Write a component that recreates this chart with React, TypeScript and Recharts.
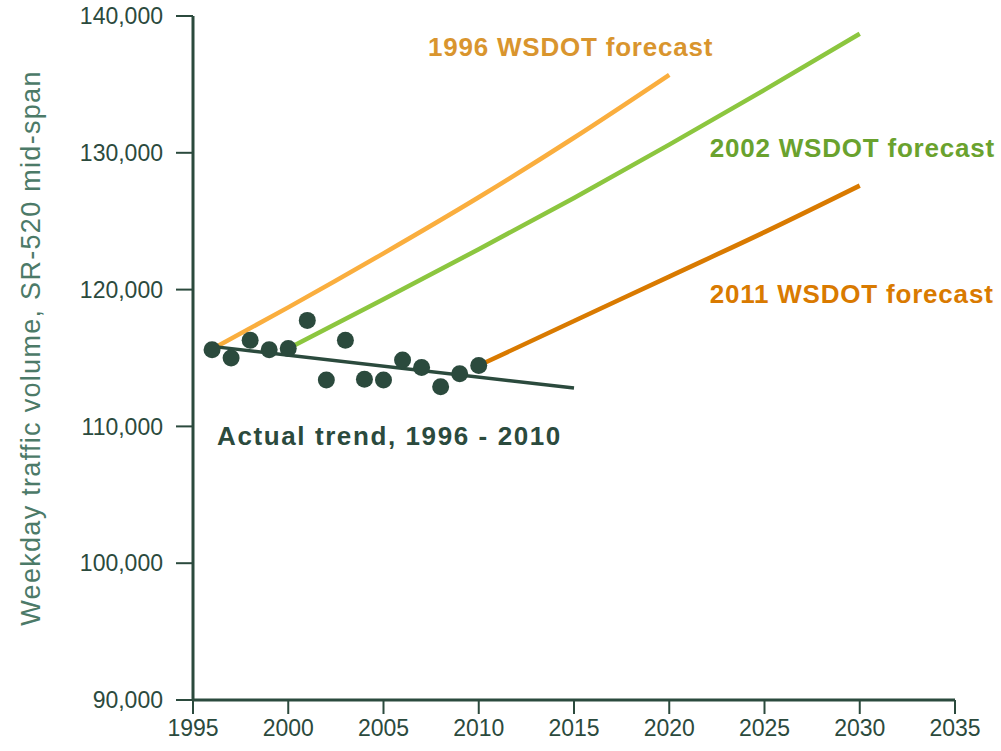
import React from 'react';
import { ComposedChart, Line, Scatter, XAxis, YAxis } from 'recharts';

const observedYears = [1996, 1997, 1998, 1999, 2000, 2001, 2002, 2003, 2004, 2005, 2006, 2007, 2008, 2009, 2010];
const observedValues = [115600, 115000, 116300, 115600, 115700, 117750, 113400, 116300, 113450, 113400, 114850, 114300, 112900, 113850, 114450];

const trendYears = [1996, 2015];
const trendValues = [115850, 112800];

const forecast1996Years = [1996, 2000, 2005, 2010, 2015, 2020];
const forecast1996Values = [115650, 118700, 122650, 126750, 131100, 135700];

const forecast2002Years = [2000, 2005, 2010, 2015, 2020, 2025, 2030];
const forecast2002Values = [115700, 119300, 122950, 126700, 130600, 134600, 138700];

const forecast2011Years = [2010, 2015, 2020, 2025, 2030];
const forecast2011Values = [114450, 117700, 120950, 124200, 127600];

const xTicks = [1995, 2000, 2005, 2010, 2015, 2020, 2025, 2030, 2035];
const yTicks = [90000, 100000, 110000, 120000, 130000, 140000];

const labelTexts = ['1996 WSDOT forecast', '2002 WSDOT forecast', '2011 WSDOT forecast', 'Actual trend, 1996 - 2010'];
const labelYears = [2007.33, 2022.12, 2022.12, 1996.26];
const labelValues = [137730, 130350, 119680, 109300];
const labelColors = ['#D9952E', '#6AA22E', '#D97A00', '#2B4A3D'];

const yAxisTitle = 'Weekday traffic volume, SR-520 mid-span';

const DARK = '#2B4A3D';
const FONT = '"Liberation Sans", Arial, sans-serif';

const zip = (xs: number[], ys: number[]) => xs.map((x, i) => ({ year: x, value: ys[i] }));

const observedData = zip(observedYears, observedValues);
const trendData = zip(trendYears, trendValues);
const f1996Data = zip(forecast1996Years, forecast1996Values);
const f2002Data = zip(forecast2002Years, forecast2002Values);
const f2011Data = zip(forecast2011Years, forecast2011Values);
const labelData = labelTexts.map((t, i) => ({ year: labelYears[i], value: labelValues[i], text: t, color: labelColors[i] }));

const fmt = (v: number) => v.toLocaleString('en-US');

const LabelShape = (props: any) => {
  const { cx, cy, payload } = props;
  const spacing = payload.text.startsWith('Actual') ? 1.6 : 0.8;
  return (
    <text x={cx} y={cy} dominantBaseline="central" textAnchor="start" fill={payload.color}
      fontFamily={FONT} fontWeight={700} fontSize={26} letterSpacing={spacing}>
      {payload.text}
    </text>
  );
};

const DotShape = (props: any) => {
  const { cx, cy } = props;
  return <circle cx={cx} cy={cy} r={8.5} fill={DARK} />;
};

const YTitle = (props: any) => {
  const vb = props.viewBox || { x: 0, y: 0, width: 0, height: 0 };
  const cx = 31;
  const cy = vb.y + vb.height / 2 - 10;
  return (
    <text x={cx} y={cy} transform={`rotate(-90, ${cx}, ${cy})`} textAnchor="middle" dominantBaseline="central"
      fill="#4C7A68" fontFamily={FONT} fontSize={27} letterSpacing={1.3}>
      {yAxisTitle}
    </text>
  );
};

export default function App() {
  return (
    <div style={{ position: 'absolute', left: 0, top: 0, width: 1001, height: 751, background: '#fff' }}>
      <ComposedChart width={1001} height={751} margin={{ top: 16, right: 46, bottom: 0, left: 0 }}>
        <XAxis
          type="number"
          dataKey="year"
          domain={[1995, 2035]}
          ticks={xTicks}
          height={51}
          axisLine={{ stroke: DARK, strokeWidth: 3 }}
          tickLine={{ stroke: DARK, strokeWidth: 2 }}
          tickSize={14}
          tickMargin={6}
          tick={{ fill: DARK, fontSize: 23, fontFamily: FONT }}
        />
        <YAxis
          type="number"
          dataKey="value"
          domain={[90000, 140000]}
          ticks={yTicks}
          width={193}
          axisLine={{ stroke: DARK, strokeWidth: 3 }}
          tickLine={{ stroke: DARK, strokeWidth: 2 }}
          tickSize={17}
          tickMargin={13}
          tickFormatter={fmt}
          tick={{ fill: DARK, fontSize: 23, fontFamily: FONT }}
          label={{ content: YTitle }}
        />
        <Line data={f1996Data} dataKey="value" type="monotone" stroke="#FAAE3E" strokeWidth={4.5} dot={false} isAnimationActive={false} />
        <Line data={f2002Data} dataKey="value" type="monotone" stroke="#8CC63F" strokeWidth={4.5} dot={false} isAnimationActive={false} />
        <Line data={f2011Data} dataKey="value" type="monotone" stroke="#D97A00" strokeWidth={4.5} dot={false} isAnimationActive={false} />
        <Line data={trendData} dataKey="value" type="linear" stroke={DARK} strokeWidth={3.5} dot={false} isAnimationActive={false} />
        <Scatter data={observedData} dataKey="value" shape={DotShape} isAnimationActive={false} />
        <Scatter data={labelData} dataKey="value" shape={LabelShape} isAnimationActive={false} />
      </ComposedChart>
    </div>
  );
}
